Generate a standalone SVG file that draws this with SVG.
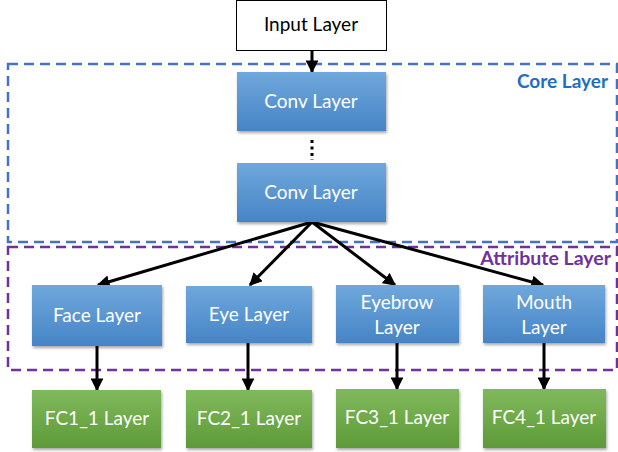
<svg xmlns="http://www.w3.org/2000/svg" width="618" height="452" viewBox="0 0 618 452">
<defs>
<linearGradient id="gb" x1="0" y1="0" x2="0" y2="1"><stop offset="0" stop-color="#6FA8DC"/><stop offset="1" stop-color="#4684C6"/></linearGradient>
<linearGradient id="gg" x1="0" y1="0" x2="0" y2="1"><stop offset="0" stop-color="#80B95C"/><stop offset="1" stop-color="#5E9A38"/></linearGradient>
<filter id="sh" x="-10%" y="-10%" width="125%" height="130%"><feDropShadow dx="1" dy="2" stdDeviation="1.5" flood-color="#000" flood-opacity="0.35"/></filter>
<marker id="ah" viewBox="0 0 10 10" refX="9" refY="5" markerWidth="4.3" markerHeight="4.3" orient="auto" markerUnits="strokeWidth"><path d="M0,0 L10,5 L0,10 z" fill="#000"/></marker>
</defs>
<style>
.b{fill:url(#gb);filter:url(#sh)}
.g{fill:url(#gg);filter:url(#sh)}
.t{font-family:Lato,"Open Sans","Liberation Sans",sans-serif;font-size:19px;fill:#fff;text-anchor:middle}
.tk{font-family:Lato,"Open Sans","Liberation Sans",sans-serif;font-size:19px;fill:#000;text-anchor:middle}
.c{fill:none;stroke:#000;stroke-width:3;marker-end:url(#ah)}
</style>
<g id="core-region">
<rect x="8" y="64" width="609" height="178" fill="none" stroke="#4472C4" stroke-width="2.5" stroke-dasharray="10 6"/>
<text x="608" y="88" font-family="Lato,'Open Sans','Liberation Sans',sans-serif" font-size="19" font-weight="bold" fill="#1F6EBF" text-anchor="end">Core Layer</text>
</g>
<g id="attribute-region">
<rect x="8" y="247" width="609" height="123" fill="none" stroke="#7030A0" stroke-width="2.5" stroke-dasharray="10 6"/>
<text x="611" y="265" font-family="Lato,'Open Sans','Liberation Sans',sans-serif" font-size="19.5" font-weight="bold" fill="#7030A0" text-anchor="end">Attribute Layer</text>
</g>
<g id="connectors">
<line class="c" x1="312" y1="50" x2="312" y2="72"/>
<line x1="312" y1="140" x2="312" y2="160" stroke="#000" stroke-width="3" stroke-dasharray="3 3.5"/>
<line class="c" x1="312" y1="222" x2="98" y2="285"/>
<line class="c" x1="312" y1="222" x2="250" y2="285"/>
<line class="c" x1="312" y1="222" x2="395" y2="285"/>
<line class="c" x1="312" y1="222" x2="543" y2="285"/>
<line class="c" x1="97" y1="346" x2="97" y2="390"/>
<line class="c" x1="248" y1="343" x2="248" y2="390"/>
<line class="c" x1="397" y1="343" x2="397" y2="389"/>
<line class="c" x1="544" y1="343" x2="544" y2="389"/>
</g>
<g id="input"><rect x="236.5" y="0.5" width="150" height="50" fill="#fff" stroke="#000" stroke-width="1"/><text class="tk" x="311" y="31">Input Layer</text></g>
<g id="conv1"><rect class="b" x="237" y="72" width="149" height="59"/><text class="t" x="311" y="108">Conv Layer</text></g>
<g id="conv2"><rect class="b" x="237" y="163" width="149" height="59"/><text class="t" x="311" y="199">Conv Layer</text></g>
<g id="face"><rect class="b" x="32" y="285" width="130" height="61"/><text class="t" x="97" y="322">Face Layer</text></g>
<g id="eye"><rect class="b" x="186" y="286" width="126" height="57"/><text class="t" x="249" y="321">Eye Layer</text></g>
<g id="eyebrow"><rect class="b" x="336" y="285" width="123" height="58"/><text class="t" x="397" y="309">Eyebrow</text><text class="t" x="397" y="334">Layer</text></g>
<g id="mouth"><rect class="b" x="483" y="285" width="122" height="58"/><text class="t" x="544" y="309">Mouth</text><text class="t" x="544" y="334">Layer</text></g>
<g id="fc1"><rect class="g" x="32" y="390" width="129" height="58"/><text class="t" x="97" y="425">FC1_1 Layer</text></g>
<g id="fc2"><rect class="g" x="186" y="390" width="126" height="58"/><text class="t" x="249" y="425">FC2_1 Layer</text></g>
<g id="fc3"><rect class="g" x="336" y="389" width="123" height="59"/><text class="t" x="397" y="424">FC3_1 Layer</text></g>
<g id="fc4"><rect class="g" x="483" y="389" width="123" height="59"/><text class="t" x="544" y="424">FC4_1 Layer</text></g>
</svg>
